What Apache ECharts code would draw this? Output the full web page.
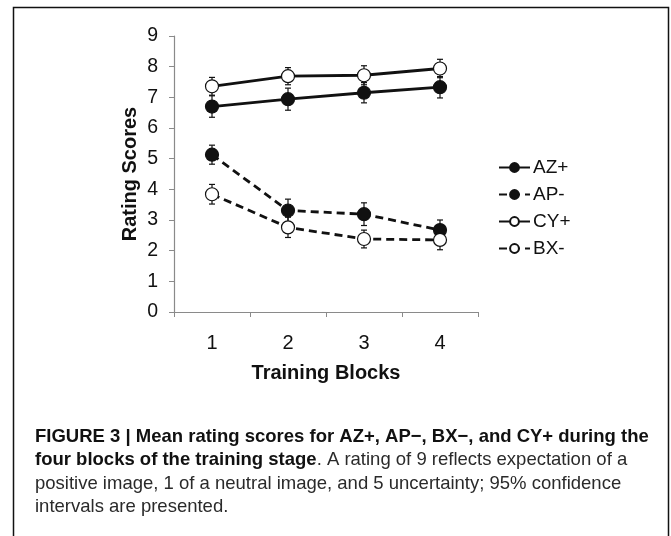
<!DOCTYPE html>
<html>
<head>
<meta charset="utf-8">
<script src="https://cdn.jsdelivr.net/npm/echarts@6/dist/echarts.min.js"></script>
<style>
  html, body { margin: 0; padding: 0; background: #fff; }
  #main { width: 671px; height: 536px; }
</style>
</head>
<body>
<div id="main"></div>
<script>
const blocks = ['1', '2', '3', '4'];
const azPlus = [6.70, 6.94, 7.15, 7.33];
const apMinus = [5.13, 3.31, 3.19, 2.67];
const cyPlus = [7.36, 7.69, 7.72, 7.94];
const bxMinus = [3.84, 2.76, 2.38, 2.35];
// half-width of the 95% CI bars
const azErr = [0.35, 0.36, 0.33, 0.35];
const apErr = [0.31, 0.37, 0.37, 0.33];
const cyErr = [0.29, 0.28, 0.31, 0.30];
const bxErr = [0.32, 0.33, 0.29, 0.32];

const chart = echarts.init(document.getElementById('main'));

function errorSeries(values, errs) {
    return {
        type: 'custom',
        z: 1,
        silent: true,
        data: values.map((v, i) => [i, v - errs[i], v + errs[i]]),
        renderItem(params, api) {
            const lo = api.coord([api.value(0), api.value(1)]);
            const hi = api.coord([api.value(0), api.value(2)]);
            const w = 3;
            const style = { stroke: '#111', lineWidth: 1.2 };
            return {
                type: 'group',
                children: [
                    { type: 'line', shape: { x1: lo[0], y1: lo[1], x2: hi[0], y2: hi[1] }, style },
                    { type: 'line', shape: { x1: lo[0] - w, y1: lo[1], x2: lo[0] + w, y2: lo[1] }, style },
                    { type: 'line', shape: { x1: hi[0] - w, y1: hi[1], x2: hi[0] + w, y2: hi[1] }, style }
                ]
            };
        }
    };
}

function lineSeries(name, values, dashed, filled) {
    return {
        name: name,
        type: 'line',
        z: 3,
        data: values,
        symbol: 'circle',
        symbolSize: 13,
        lineStyle: { color: '#111', width: 2.8, type: dashed ? [8, 5] : 'solid' },
        itemStyle: { color: filled ? '#111' : '#fff', borderColor: '#111', borderWidth: 1.2 }
    };
}

const font = 'Liberation Sans, Arial, sans-serif';

let option = {
    animation: false,
    backgroundColor: '#fff',
    grid: { left: 174, top: 36, right: 193, bottom: 224 },
    xAxis: {
        type: 'category',
        data: blocks,
        boundaryGap: true,
        name: 'Training Blocks',
        nameLocation: 'middle',
        nameGap: 51,
        nameTextStyle: { fontFamily: font, fontSize: 20, fontWeight: 'bold', color: '#111' },
        axisLine: { lineStyle: { color: '#8a8a8a', width: 1.2 } },
        axisTick: { show: true, length: 5, lineStyle: { color: '#8a8a8a' } },
        axisLabel: { fontFamily: font, fontSize: 20, color: '#111', margin: 21 }
    },
    yAxis: {
        type: 'value',
        min: 0,
        max: 9,
        interval: 1,
        name: 'Rating Scores',
        nameLocation: 'middle',
        nameGap: 34,
        nameTextStyle: { fontFamily: font, fontSize: 20, fontWeight: 'bold', color: '#111' },
        axisLine: { show: true, lineStyle: { color: '#8a8a8a', width: 1.2 } },
        axisTick: { show: true, length: 5, lineStyle: { color: '#8a8a8a' } },
        splitLine: { show: false },
        axisLabel: { fontFamily: font, fontSize: 19.5, color: '#111', margin: 16 }
    },
    legend: {
        orient: 'vertical',
        left: 493,
        top: 153,
        itemWidth: 31,
        itemHeight: 11,
        itemGap: 8,
        textStyle: { fontFamily: font, fontSize: 19, color: '#111', padding: [0, 0, 0, -2] },
        data: ['AZ+', 'AP-', 'CY+', 'BX-']
    },
    graphic: [
        {
            type: 'rect',
            shape: { x: 13.5, y: 7.5, width: 655, height: 560 },
            style: { fill: 'none', stroke: '#111', lineWidth: 1.5 },
            z: 0
        },
        {
            type: 'text',
            left: 35,
            top: 427,
            style: {
                text: '{b|FIGURE 3 | Mean rating scores for AZ+, AP\u2212, BX\u2212, and CY+ during the}\n' +
                      '{b|four blocks of the training stage}{r|. A rating of 9 reflects expectation of a}\n' +
                      '{r|positive image, 1 of a neutral image, and 5 uncertainty; 95% confidence}\n' +
                      '{r|intervals are presented.}',
                rich: {
                    b: { fontFamily: font, fontSize: 18.5, fontWeight: 'bold', fill: '#111', lineHeight: 23.5 },
                    r: { fontFamily: font, fontSize: 18.5, fill: '#2a2a2a', lineHeight: 23.5 }
                }
            }
        }
    ],
    series: [
        errorSeries(azPlus, azErr),
        errorSeries(apMinus, apErr),
        errorSeries(cyPlus, cyErr),
        errorSeries(bxMinus, bxErr),
        lineSeries('AZ+', azPlus, false, true),
        lineSeries('AP-', apMinus, true, true),
        lineSeries('CY+', cyPlus, false, false),
        lineSeries('BX-', bxMinus, true, false)
    ]
};
chart.setOption(option);
</script>
</body>
</html>
